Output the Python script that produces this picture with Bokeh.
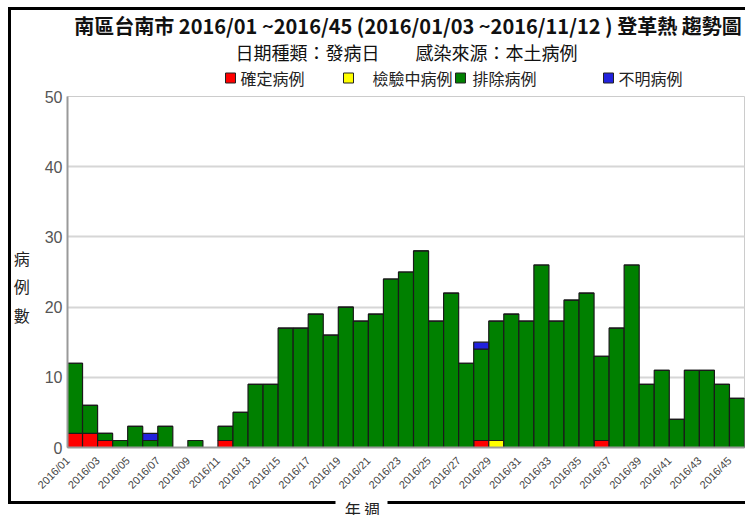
import numpy as np
from bokeh.plotting import figure
from bokeh.layouts import column
from bokeh.models import Range1d, FixedTicker, ColumnDataSource
from bokeh.core.properties import value
from bokeh.embed import file_html
from bokeh.resources import INLINE

# ---------------- data ----------------
weeks = [1, 2, 3, 4, 5, 6, 7, 8, 9, 10, 11, 12, 13, 14, 15, 16, 17, 18, 19, 20,
         21, 22, 23, 24, 25, 26, 27, 28, 29, 30, 31, 32, 33, 34, 35, 36, 37, 38,
         39, 40, 41, 42, 43, 44, 45]
week_labels = ["2016/01", "2016/02", "2016/03", "2016/04", "2016/05", "2016/06",
               "2016/07", "2016/08", "2016/09", "2016/10", "2016/11", "2016/12",
               "2016/13", "2016/14", "2016/15", "2016/16", "2016/17", "2016/18",
               "2016/19", "2016/20", "2016/21", "2016/22", "2016/23", "2016/24",
               "2016/25", "2016/26", "2016/27", "2016/28", "2016/29", "2016/30",
               "2016/31", "2016/32", "2016/33", "2016/34", "2016/35", "2016/36",
               "2016/37", "2016/38", "2016/39", "2016/40", "2016/41", "2016/42",
               "2016/43", "2016/44", "2016/45"]
labelled_weeks = [1, 3, 5, 7, 9, 11, 13, 15, 17, 19, 21, 23, 25, 27, 29, 31,
                  33, 35, 37, 39, 41, 43, 45]

confirmed = [2, 2, 1, 0, 0, 0, 0, 0, 0, 0, 1, 0, 0, 0, 0, 0, 0, 0, 0, 0,
             0, 0, 0, 0, 0, 0, 0, 1, 0, 0, 0, 0, 0, 0, 0, 1, 0, 0, 0, 0,
             0, 0, 0, 0, 0]
pending = [0, 0, 0, 0, 0, 0, 0, 0, 0, 0, 0, 0, 0, 0, 0, 0, 0, 0, 0, 0,
           0, 0, 0, 0, 0, 0, 0, 0, 1, 0, 0, 0, 0, 0, 0, 0, 0, 0, 0, 0,
           0, 0, 0, 0, 0]
excluded = [10, 4, 1, 1, 3, 1, 3, 0, 1, 0, 2, 5, 9, 9, 17, 17, 19, 16, 20, 18,
            19, 24, 25, 28, 18, 22, 12, 13, 17, 19, 18, 26, 18, 21, 22, 12, 17, 26, 9, 11,
            4, 11, 11, 9, 7]
unknown = [0, 0, 0, 0, 0, 1, 0, 0, 0, 0, 0, 0, 0, 0, 0, 0, 0, 0, 0, 0,
           0, 0, 0, 0, 0, 0, 0, 1, 0, 0, 0, 0, 0, 0, 0, 0, 0, 0, 0, 0,
           0, 0, 0, 0, 0]

series_keys = ["confirmed", "pending", "excluded", "unknown"]
series_names = ["確定病例", "檢驗中病例", "排除病例", "不明病例"]
series_colors = ["#ff0000", "#ffff00", "#008000", "#2222dd"]
y_ticks = [0, 10, 20, 30, 40, 50]

title_text = "南區台南市 2016/01 ~2016/45 (2016/01/03 ~2016/11/12 ) 登革熱 趨勢圖"
subtitle_text = "日期種類：發病日　　感染來源：本土病例"
y_title = "\n病\n例\n數"
x_title = "年 週"

CJK = "Noto Sans CJK TC"
W = 745
LEFT, RIGHT = 67, 1          # frame borders shared by all stacked figures
FRAME_X0, FRAME_X1 = LEFT, W - RIGHT


def strip(fig):
    fig.outline_line_color = None
    fig.background_fill_alpha = 0
    fig.border_fill_alpha = 0
    fig.xgrid.visible = False
    fig.ygrid.visible = False


# ---------------- header (title, subtitle, legend) ----------------
HEAD_H = 88
head = figure(width=W, height=HEAD_H, output_backend="svg", toolbar_location=None,
              x_range=Range1d(FRAME_X0, FRAME_X1), y_range=Range1d(HEAD_H, 0),
              x_axis_type=None, y_axis_type=None, min_border=0,
              min_border_left=LEFT, min_border_right=RIGHT)
strip(head)

head.text(x=[407.5], y=[25], text=[title_text], text_align="center",
          text_baseline="middle", text_font=value(CJK), text_font_size="20px",
          text_font_style="bold", text_color="#111111")
head.text(x=[406], y=[51.5], text=[subtitle_text], text_align="center",
          text_baseline="middle", text_font=value(CJK), text_font_size="18px",
          text_color="#111111")

legend_swatch_x = [230, 348, 460, 608]
legend_text_x = [240, 372, 472, 618]
legend_y = 77
head.rect(x=legend_swatch_x, y=[legend_y + 0.5] * 4, width=10, height=10,
          fill_color=series_colors, line_color="#222222", line_width=1)
head.text(x=legend_text_x, y=[legend_y] * 4, text=series_names,
          text_align="left", text_baseline="middle", text_font=value(CJK),
          text_font_size="16px", text_color="#222222")

# ---------------- footer (x axis title over the frame line) ----------------
FOOT_H = 17
foot = figure(width=W, height=FOOT_H, output_backend="svg", toolbar_location=None,
              x_range=Range1d(FRAME_X0, FRAME_X1), y_range=Range1d(FOOT_H, 0),
              x_axis_type=None, y_axis_type=None, min_border=0,
              min_border_left=LEFT, min_border_right=RIGHT)
strip(foot)
foot.rect(x=[361], y=[8.5], width=52, height=17, fill_color="white",
          line_color=None)
foot.text(x=[362], y=[10], text=[x_title], text_align="center",
          text_baseline="middle", text_font=value(CJK), text_font_size="16px",
          text_color="#222222")

# ---------------- main chart ----------------
src = ColumnDataSource(dict(week=weeks, confirmed=confirmed, pending=pending,
                            excluded=excluded, unknown=unknown))

p = figure(width=W, height=515 - HEAD_H - FOOT_H, output_backend="svg",
           toolbar_location=None,
           x_range=Range1d(0.5, 45.5), y_range=Range1d(0, 50),
           min_border_left=LEFT, min_border_right=RIGHT, min_border_top=8,
           min_border_bottom=51)
p.outline_line_color = "#cccccc"
p.background_fill_color = "white"
p.border_fill_alpha = 0

p.vbar_stack(series_keys, x="week", width=1.0, source=src,
             fill_color=series_colors, line_color="#1a1a1a", line_width=1.2)

# x axis: labels every other week, rotated (anchored slightly left of the bar)
tick_pos = [w - 0.49 for w in labelled_weeks]
p.xaxis.ticker = FixedTicker(ticks=tick_pos)
p.xaxis.major_label_overrides = {t: week_labels[w - 1]
                                 for t, w in zip(tick_pos, labelled_weeks)}
p.xaxis.major_label_orientation = np.pi / 4
p.xaxis.major_tick_line_color = None
p.xaxis.major_tick_out = 0
p.xaxis.major_tick_in = 0
p.xaxis.minor_tick_line_color = None
p.xaxis.axis_line_color = "#999999"
p.xaxis.axis_line_width = 2
p.xaxis.major_label_text_font = "Liberation Sans"
p.xaxis.major_label_text_font_size = "11px"
p.xaxis.major_label_text_color = "#444444"
p.xaxis.major_label_standoff = 11

p.yaxis.ticker = FixedTicker(ticks=y_ticks)
p.yaxis.major_tick_line_color = None
p.yaxis.major_tick_out = 0
p.yaxis.major_tick_in = 0
p.yaxis.minor_tick_line_color = None
p.yaxis.axis_line_color = "#999999"
p.yaxis.axis_line_width = 2
p.yaxis.major_label_text_font = "Liberation Sans"
p.yaxis.major_label_text_font_size = "16px"
p.yaxis.major_label_text_color = "#555555"
p.yaxis.major_label_standoff = 5
p.yaxis.axis_label = y_title
p.yaxis.axis_label_text_font = CJK
p.yaxis.axis_label_text_font_size = "16px"
p.yaxis.axis_label_text_font_style = "normal"
p.yaxis.axis_label_text_color = "#222222"
p.yaxis.axis_label_text_line_height = 1.2
p.yaxis.axis_label_standoff = 12
try:
    p.yaxis.axis_label_orientation = "horizontal"
except Exception:
    pass

p.xgrid.grid_line_color = None
p.ygrid.grid_line_color = "#d6d6d6"
p.ygrid.grid_line_width = 2

# outer black frame (left, top, bottom lines) behind the transparent canvases
frame_css = {"box-shadow": ("inset 8px 0 0 0 white, inset 0 7px 0 0 white, "
                            "inset 0 -11px 0 0 white, inset 11px 0 0 0 black, "
                            "inset 0 10px 0 0 black, inset 0 -14px 0 0 black")}

layout = column(head, p, foot, spacing=0, styles=frame_css)

open("out.html", "w").write(file_html(layout, INLINE))
